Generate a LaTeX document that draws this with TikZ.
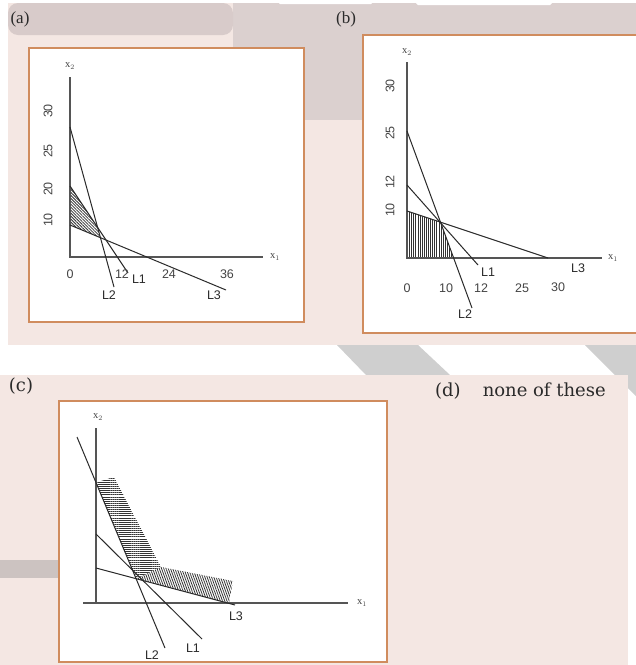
\documentclass[tikz,border=0pt]{standalone}
\usepackage{fontspec}
\setmainfont{Liberation Serif}
\setsansfont{Liberation Sans}
\newfontfamily\wideserif{DejaVu Serif}
\usetikzlibrary{patterns.meta}
\definecolor{pinkbg}{HTML}{F4E7E3}
\definecolor{bandgrey}{HTML}{D8CBCA}
\definecolor{warmgrey}{HTML}{DBD0CF}
\definecolor{stripgrey}{HTML}{CFCFCF}
\definecolor{sidegrey}{HTML}{CCC3C1}
\definecolor{framebrown}{HTML}{D08C5E}
\definecolor{axisgrey}{HTML}{555555}
\definecolor{inkgrey}{HTML}{2A2A2A}
\definecolor{numgrey}{HTML}{444444}
\definecolor{hatchgrey}{HTML}{333333}

\begin{document}
\begin{tikzpicture}[x=1pt,y=-1pt,
  frame/.style={draw=framebrown,line width=1.6pt,fill=white},
  axis/.style={draw=axisgrey,line width=1.2pt},
  cline/.style={draw=inkgrey,line width=1pt},
  hatch/.style={pattern={Lines[angle=#1,distance=2.1pt,line width=0.8pt]},pattern color=hatchgrey},
  num/.style={font=\sffamily\fontsize{12.5}{12.5}\selectfont,text=numgrey,inner sep=0pt},
  vnum/.style={num,rotate=90},
  varlab/.style={font=\fontsize{10.5}{10.5}\selectfont,text=numgrey,inner sep=0pt},
  lname/.style={font=\sffamily\fontsize{12.5}{12.5}\selectfont,text=inkgrey,inner sep=0pt},
  tag/.style={font=\fontsize{17}{17}\selectfont,text=inkgrey,inner sep=0pt},
  wtag/.style={font=\wideserif\fontsize{18}{18}\selectfont,text=inkgrey,inner sep=0pt}]
\useasboundingbox (0,0) rectangle (636,665);
% background
\fill[white] (0,0) rectangle (636,665);
\fill[pinkbg] (8,3) rectangle (636,345);
\fill[warmgrey] (233,3) rectangle (636,35);
\fill[warmgrey] (233,3) rectangle (363,120);
\fill[bandgrey,rounded corners=10pt] (8,3) -- (8,35) -- (233,35) -- (233,3) -- cycle;
\fill[white] (276,0) -- (375,0) -- (371,4) -- (280,4) -- cycle;
\fill[white] (413,0) -- (555,0) -- (550,5) -- (418,5) -- cycle;
\fill[stripgrey] (337,345) -- (418,345) -- (450,375) -- (366,375) -- cycle;
\fill[stripgrey] (585,345) -- (636,345) -- (636,396) -- cycle;
\fill[pinkbg] (0,375) rectangle (628,665);
\fill[sidegrey] (0,560) rectangle (60,578);
% frames
\draw[frame] (29,48) rectangle (304,322);
\draw[frame] (363,35) rectangle (642,333);
\draw[frame] (59,401) rectangle (387,662);
% panel tags
\node[tag] (ta) at (20,19) {(a)};
\node[tag] (tb) at (346,19) {(b)};
\node[wtag] (tc) at (21,386) {(c)};
\node[wtag,anchor=west] (td) at (435,391) {(d)\hspace{22pt}none of these};

% (a)
\coordinate (aO) at (70,257); \coordinate (aY) at (70,77); \coordinate (aX) at (263,257);
\coordinate (aL1s) at (70,186); \coordinate (aL1e) at (128,273);
\coordinate (aL2s) at (70,127); \coordinate (aL2e) at (114,287);
\coordinate (aL3s) at (70,225); \coordinate (aL3e) at (226,290);
\fill[hatch=-45] (aL1s)
  -- (intersection of aL1s--aL1e and aL2s--aL2e)
  -- (intersection of aL2s--aL2e and aL3s--aL3e) -- (aL3s) -- cycle;
\draw[axis] (aY) -- (aO) -- (aX);
\draw[cline] (aL1s) -- (aL1e); \draw[cline] (aL2s) -- (aL2e); \draw[cline] (aL3s) -- (aL3e);
\node[varlab] (ax2) at (70,66) {x$_2$};
\node[varlab] (ax1) at (275,257) {x$_1$};
\node[vnum] (a30) at (48,111) {30}; \node[vnum] (a25) at (48,151) {25};
\node[vnum] (a20) at (48,189) {20}; \node[vnum] (a10) at (48,220) {10};
\node[num] (a0) at (70,274) {0}; \node[num] (a12) at (122,274) {12};
\node[num] (a24) at (169,274) {24}; \node[num] (a36) at (227,274) {36};
\node[lname] (aL1) at (139,279) {L1}; \node[lname] (aL2) at (109,295) {L2};
\node[lname] (aL3) at (214,295) {L3};

% (b)
\coordinate (bO) at (407,258); \coordinate (bY) at (407,62); \coordinate (bX) at (602,258);
\coordinate (bL1s) at (407,185); \coordinate (bL1e) at (478,265);
\coordinate (bL2s) at (407,131); \coordinate (bL2e) at (472,308);
\coordinate (bL3s) at (407,211); \coordinate (bL3e) at (548,258);
\fill[hatch=90] (bL3s)
  -- (intersection of bL3s--bL3e and bL2s--bL2e)
  -- (intersection of bL2s--bL2e and bO--bX) -- (bO) -- cycle;
\draw[axis] (bY) -- (bO) -- (bX);
\draw[cline] (bL1s) -- (bL1e); \draw[cline] (bL2s) -- (bL2e); \draw[cline] (bL3s) -- (bL3e);
\node[varlab] (bx2) at (407,52) {x$_2$};
\node[varlab] (bx1) at (613,258) {x$_1$};
\node[vnum] (b30) at (390,86) {30}; \node[vnum] (b25) at (390,133) {25};
\node[vnum] (b12) at (390,182) {12}; \node[vnum] (b10) at (390,210) {10};
\node[num] (b0) at (407,288) {0}; \node[num] (bt10) at (446,288) {10};
\node[num] (bt12) at (481,288) {12}; \node[num] (bt25) at (522,288) {25};
\node[num] (bt30) at (558,287) {30};
\node[lname] (bL1) at (488,272) {L1}; \node[lname] (bL2) at (465,314) {L2};
\node[lname] (bL3) at (578,268) {L3};

% (c)
\coordinate (cO) at (96,603); \coordinate (cY) at (96,428);
\coordinate (cXl) at (83,603); \coordinate (cX) at (348,603);
\coordinate (cL1s) at (96,534); \coordinate (cL1e) at (202,639);
\coordinate (cL2s) at (77,437); \coordinate (cL2e) at (165,648);
\coordinate (cL3s) at (96,568); \coordinate (cL3e) at (235,605);
\coordinate (cP1) at (intersection of cL2s--cL2e and cO--cY);
\coordinate (cP2) at (intersection of cL2s--cL2e and cL3s--cL3e);
\coordinate (cP3) at (intersection of cL3s--cL3e and cXl--cX);
\coordinate (cQ1) at (114,477); \coordinate (cQ2) at (161,567);
\coordinate (cQ3) at (233,581); \coordinate (cQ4) at (229,603);
\fill[hatch=0] (cP1) -- (cQ1) -- (cQ2) -- (cP2) -- cycle;
\fill[hatch=-70] (cP2) -- (cQ2) -- (cQ3) -- (cQ4) -- (cP3) -- cycle;
\draw[axis] (cY) -- (cO); \draw[axis] (cXl) -- (cX);
\draw[cline] (cL1s) -- (cL1e); \draw[cline] (cL2s) -- (cL2e); \draw[cline] (cL3s) -- (cL3e);
\node[varlab] (cx2) at (98,417) {x$_2$};
\node[varlab] (cx1) at (362,603) {x$_1$};
\node[lname] (cL1) at (193,648) {L1}; \node[lname] (cL2) at (152,655) {L2};
\node[lname] (cL3) at (236,616) {L3};
\end{tikzpicture}
\end{document}
